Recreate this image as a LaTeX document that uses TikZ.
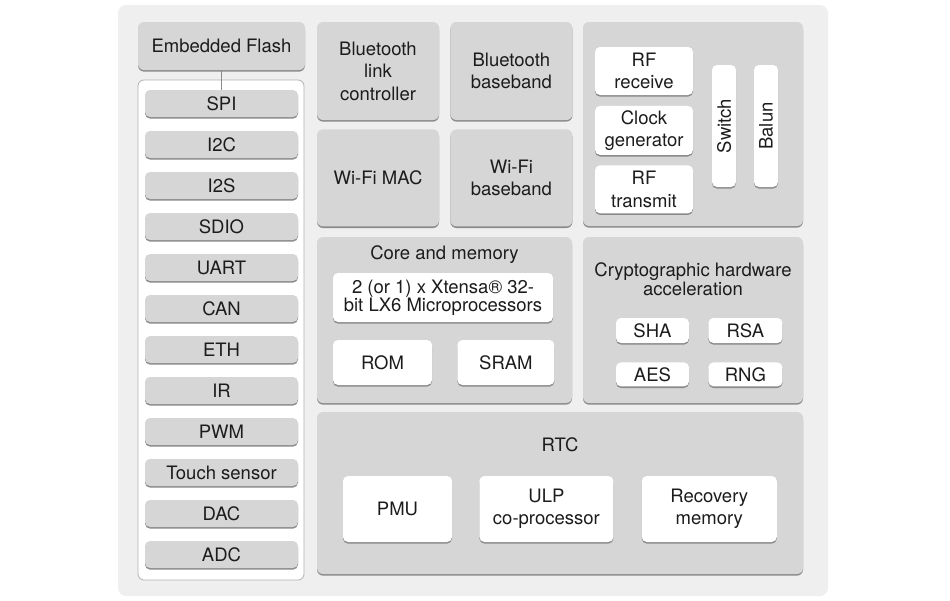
\documentclass[tikz,border=0pt]{standalone}
\usepackage{fontspec}
\setmainfont{TeX Gyre Heros}
\usetikzlibrary{positioning}
\definecolor{boardgray}{HTML}{EFEFEF}
\definecolor{panelgray}{HTML}{D6D6D6}
\definecolor{edgegray}{HTML}{8A8A8A}
\definecolor{linegray}{HTML}{B2B2B2}
\definecolor{inkgray}{HTML}{1C1C1C}

\begin{document}
\begin{tikzpicture}[x=1pt, y=-1pt,
    every node/.style={font=\fontsize{18.5}{22.5}\selectfont, text=inkgray,
      inner sep=0pt, align=center},
    shadowed/.style={preaction={fill=edgegray, transform canvas={yshift=-1.6pt}}},
    panel/.style={shadowed, fill=panelgray, rounded corners=6pt},
    chip/.style={shadowed, fill=white, rounded corners=5pt},
    periph/.style={shadowed, fill=panelgray, rounded corners=5pt,
      minimum width=153pt, minimum height=27pt},
    link/.style={draw=edgegray, line width=0.8pt}
  ]
    \useasboundingbox (0,0) rectangle (950,600);
    \node[fill=boardgray, rounded corners=8pt, minimum width=710pt, minimum height=591pt] (board) at (473,300.5) {};

    % peripherals
    \node[panel, minimum width=167pt, minimum height=48pt] (flash) at (221.5,46) {Embedded Flash};
    \node[draw=linegray, fill=white, line width=0.8pt, rounded corners=6pt,
      minimum width=166pt, minimum height=500pt] (bus) at (221,330) {};
    \foreach \lbl [count=\i] in {SPI,I2C,I2S,SDIO,UART,CAN,ETH,IR,PWM,Touch sensor,DAC,ADC}
      \node[periph] (p\i) at (221.5,62.5+41*\i) {\lbl};
    \draw[link] (flash) -- (p1);

    % radio
    \node[panel, minimum width=122pt, minimum height=98pt] (btlc) at (378,71) {Bluetooth\\link\\controller};
    \node[panel, minimum width=122pt, minimum height=98pt, right=11pt of btlc] (btbb) {Bluetooth\\baseband};
    \node[panel, minimum width=122pt, minimum height=97pt, below=9pt of btlc] (wimac) {Wi-Fi MAC};
    \node[panel, minimum width=122pt, minimum height=97pt, right=11pt of wimac] (wibb) {Wi-Fi\\baseband};

    \node[panel, minimum width=220pt, minimum height=204pt] (rf) at (693,124) {};
    \node[chip, minimum width=98pt, minimum height=48pt] (rfrx) at (644,71) {RF\\receive};
    \node[chip, minimum width=98pt, minimum height=49pt, below=10.5pt of rfrx] (clk) {Clock\\generator};
    \node[chip, minimum width=98pt, minimum height=48pt, below=10pt of clk] (rftx) {RF\\transmit};
    \node[chip, rotate=90, minimum width=122pt, minimum height=24pt] (switch) at (724,126) {Switch};
    \node[chip, rotate=90, minimum width=122pt, minimum height=24pt] (balun) at (766,126) {Balun};

    % core and memory
    \node[panel, minimum width=255pt, minimum height=166pt] (core) at (444.5,320) {};
    \node (coretitle) at (444.5,255) {Core and memory};
    \node[chip, minimum width=220pt, minimum height=49pt,
      font=\fontsize{18.5}{18}\selectfont] (xtensa) at (443,297.5) {2 (or 1) x Xtensa® 32-\\bit LX6 Microprocessors};
    \node[chip, minimum width=99pt, minimum height=45pt] (rom) at (382.5,362.5) {ROM};
    \node[chip, minimum width=97pt, minimum height=45pt, right=25pt of rom] (sram) {SRAM};

    % crypto
    \node[panel, minimum width=220pt, minimum height=166pt] (crypto) at (693,320) {};
    \node[font=\fontsize{18.5}{16.5}\selectfont] (cryptotitle) at (693,279) {Cryptographic hardware\\acceleration};
    \node[chip, minimum width=73pt, minimum height=25pt] (sha) at (652.5,330.5) {SHA};
    \node[chip, minimum width=74pt, minimum height=25pt, right=19pt of sha] (rsa) {RSA};
    \node[chip, minimum width=73pt, minimum height=24pt, below=19pt of sha] (aes) {AES};
    \node[chip, minimum width=74pt, minimum height=24pt, right=19pt of aes] (rng) {RNG};

    % rtc
    \node[panel, minimum width=486pt, minimum height=162pt] (rtc) at (560,493) {};
    \node (rtctitle) at (560,445) {RTC};
    \node[chip, minimum width=109pt, minimum height=66pt] (pmu) at (397.5,509) {PMU};
    \node[chip, minimum width=134pt, minimum height=66pt, right=27pt of pmu] (ulp) {ULP\\co-processor};
    \node[chip, minimum width=135pt, minimum height=66pt, right=28pt of ulp] (recov) {Recovery\\memory};
  \end{tikzpicture}
\end{document}
